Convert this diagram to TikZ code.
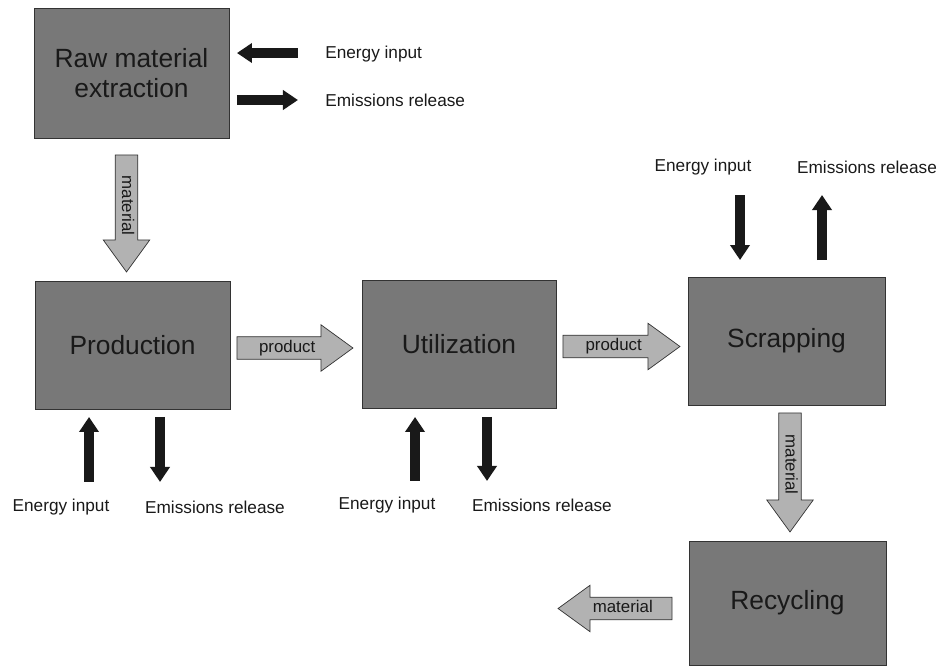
\documentclass[tikz,border=0pt]{standalone}
\usepackage{fontspec}
\setmainfont{Liberation Sans}
\usepackage{tikz}
\usetikzlibrary{shapes.arrows,arrows.meta,positioning}

\definecolor{boxgray}{gray}{0.47}
\definecolor{arrowgray}{gray}{0.70}
\definecolor{ink}{gray}{0.10}

\begin{document}
\begin{tikzpicture}[x=0.02cm, y=-0.02cm,
        stage/.style={rectangle, draw=black!80, fill=boxgray, text=ink, minimum width=3.9cm, minimum height=2.56cm, inner sep=0pt, outer sep=0pt, align=center, font=\fontsize{15}{17}\selectfont},
        note/.style={text=ink, inner sep=0pt, font=\fontsize{9.8}{12}\selectfont},
        flow/.style={single arrow, draw=black!80, fill=arrowgray, text=ink, single arrow head extend=0.24cm, single arrow tip angle=72, minimum height=2.32cm, text height=7pt, text depth=2pt, inner xsep=0pt, inner ysep=0.06cm, outer sep=0pt, font=\fontsize{9.6}{11}\selectfont},
        energy/.style={line width=0.2cm, draw=ink, -{Triangle[length=0.3cm, width=0.38cm]}},
    ]
        \useasboundingbox (0,0) rectangle (940,666);

        % stages
        \node[stage] (raw) at (131.5,73) [minimum height=2.6cm] {Raw material\\extraction};
        \node[stage] (prod) at (132.5,345) {Production};
        \node[stage] (util) at (459,344) [minimum width=3.88cm] {Utilization};
        \node[stage] (scrap) at (786.5,341) [minimum width=3.94cm] {Scrapping};
        \node[stage] (recyc) at (787.5,603) [minimum width=3.94cm, minimum height=2.48cm] {Recycling};

        % material / product flows
        \node[flow, rotate=-90, anchor=tail, minimum height=2.34cm] (mat1) at ([xshift=-0.1cm, yshift=-0.34cm]raw.south) {material};
        \node[flow, anchor=tail] (prd1) at ([xshift=0.14cm, yshift=-0.06cm]prod.east) {product};
        \node[flow, anchor=tail, minimum height=2.34cm] (prd2) at ([xshift=0.14cm, yshift=-0.05cm]util.east) {product};
        \node[flow, rotate=-90, anchor=tail, minimum height=2.38cm] (mat2) at ([xshift=0.07cm, yshift=-0.16cm]scrap.south) {material};
        \node[flow, shape border rotate=180, anchor=tail, minimum height=2.28cm] (mat3) at ([xshift=-0.34cm, yshift=-0.11cm]recyc.west) {material};

        % energy and emissions
        \node[note, anchor=west] (rein) at (325,54) {Energy input};
        \node[note, anchor=west] (remi) at (325,100) {Emissions release};
        \node[note] (pein) at (61,507) {Energy input};
        \node[note] (pemi) at (215,507) {Emissions release};
        \node[note] (uein) at (387,505) {Energy input};
        \node[note] (uemi) at (542,505) {Emissions release};
        \node[note] (sein) at (703,167) {Energy input};
        \node[note] (semi) at (867,167) {Emissions release};

        \draw[energy] ([shift={(69,45)}]raw.north east) -- ++(-61,0);
        \draw[energy] ([shift={(8,92)}]raw.north east) -- ++(61,0);
        \draw[energy] ([shift={(54,73)}]prod.south west) -- ++(0,-65);
        \draw[energy] ([shift={(125,8)}]prod.south west) -- ++(0,65);
        \draw[energy] ([shift={(53,73)}]util.south west) -- ++(0,-64);
        \draw[energy] ([shift={(125,9)}]util.south west) -- ++(0,64);
        \draw[energy] ([shift={(52,-82)}]scrap.north west) -- ++(0,65);
        \draw[energy] ([shift={(134,-17)}]scrap.north west) -- ++(0,-65);

    \end{tikzpicture}
\end{document}
